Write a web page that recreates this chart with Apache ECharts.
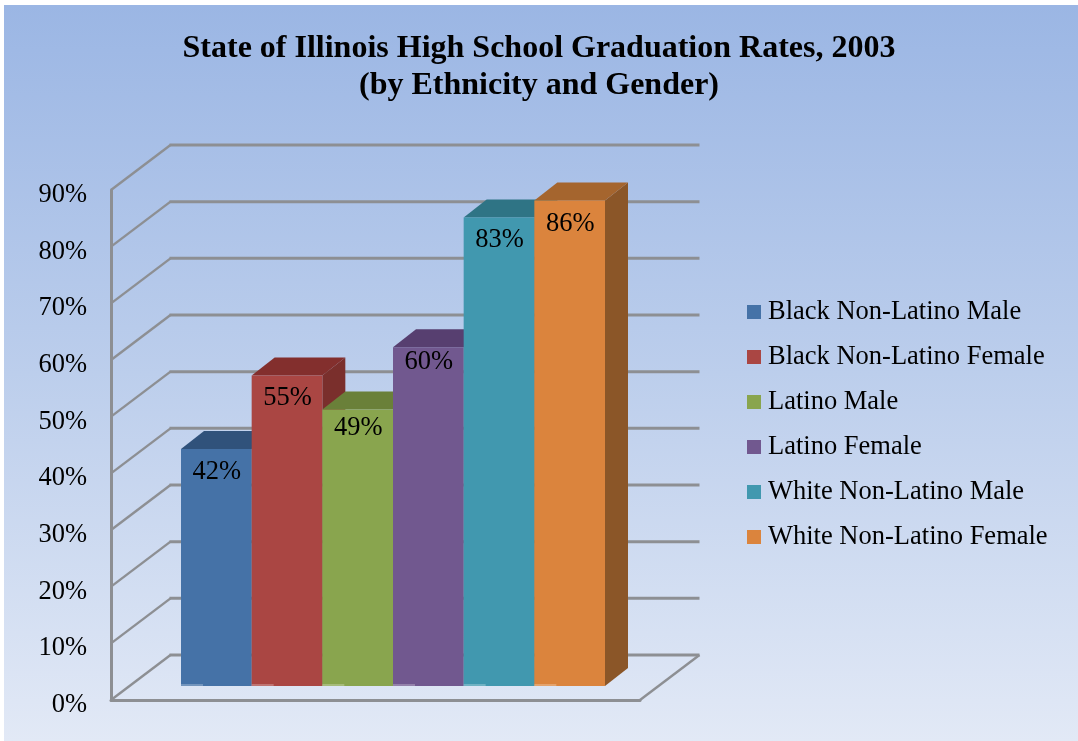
<!DOCTYPE html>
<html>
<head>
<meta charset="utf-8">
<style>html,body{margin:0;padding:0;background:#fff}#c{width:1078px;height:741px}</style>
<script src="https://cdn.jsdelivr.net/npm/echarts@6/dist/echarts.min.js"></script>
</head>
<body>
<div id="c"></div>
<script>
const titleText = 'State of Illinois High School Graduation Rates, 2003\n(by Ethnicity and Gender)';
const groups = ['Black Non-Latino Male','Black Non-Latino Female','Latino Male','Latino Female','White Non-Latino Male','White Non-Latino Female'];
const rates = [42, 55, 49, 60, 83, 86];
const frontColors = ['#4572A7','#AA4643','#89A54E','#71588F','#4198AF','#DB843D'];
const topColors = ['#30527B','#832F2D','#6A8039','#573F70','#2F7485','#A5652E'];
const sideColors = ['#2B4A70','#7A2F2C','#5F7233','#4C3763','#296777','#8B5628'];
const ticks = [0,10,20,30,40,50,60,70,80,90];
const FONT = '"Liberation Serif","Times New Roman",serif';
const GRID = '#8D8F93';
const WALL_DX = 59.5, WALL_DY = -45;
const BAR_DX = 23, BAR_DY = -18;
const LABEL_DY = [23, 22, 19, 15, 23, 23];

function renderWall(params, api) {
  const v = api.value(0);
  const a = api.coord([0, v]);
  const b = api.coord([1, v]);
  const bx = a[0] + WALL_DX, by = a[1] + WALL_DY;
  const children = [
    { type: 'line', shape: { x1: a[0], y1: a[1], x2: bx, y2: by }, style: { stroke: GRID, lineWidth: 2.4 } },
    { type: 'line', shape: { x1: bx - 1, y1: by, x2: b[0] + WALL_DX, y2: by }, style: { stroke: GRID, lineWidth: 3 } }
  ];
  if (v === 0) {
    children.push({
      type: 'line',
      shape: { x1: b[0], y1: b[1], x2: b[0] + WALL_DX, y2: b[1] + WALL_DY },
      style: { stroke: GRID, lineWidth: 2.4 }
    });
  }
  return { type: 'group', children };
}

function renderBar(params, api) {
  const i = api.value(0);
  const top = api.coord([i, api.value(1)]);
  const base = api.coord([i, 0]);
  const w = api.size([1, 0])[0];
  const l = top[0] - w / 2, r = top[0] + w / 2;
  return {
    type: 'group',
    children: [
      { type: 'polygon', shape: { points: [[r, top[1]], [r + BAR_DX, top[1] + BAR_DY], [r + BAR_DX, base[1] + BAR_DY], [r, base[1]]] }, style: { fill: sideColors[i] } },
      { type: 'polygon', shape: { points: [[l, top[1]], [l + BAR_DX, top[1] + BAR_DY], [r + BAR_DX, top[1] + BAR_DY], [r, top[1]]] }, style: { fill: topColors[i] } },
      { type: 'rect', shape: { x: l, y: top[1], width: w, height: base[1] - top[1] }, style: { fill: frontColors[i] } },
      { type: 'rect', shape: { x: l, y: base[1] - 2, width: 22, height: 2 }, style: { fill: 'rgba(255,255,255,0.25)' } },
      { type: 'text', x: top[0] + 0.5, y: top[1] + LABEL_DY[i], style: { text: rates[i] + '%', font: '26.5px ' + FONT, fill: '#000', align: 'center', verticalAlign: 'middle' } }
    ]
  };
}

const chart = echarts.init(document.getElementById('c'), null, { renderer: 'canvas' });
chart.setOption({
  animation: false,
  backgroundColor: '#ffffff',
  graphic: [{
    type: 'rect', z: -10, silent: true,
    shape: { x: 4, y: 5, width: 1074, height: 736 },
    style: { fill: new echarts.graphic.LinearGradient(0, 0, 0, 1, [
      { offset: 0, color: '#9BB6E4' }, { offset: 0.5, color: '#BCCEEC' }, { offset: 1, color: '#E2E9F6' }
    ]) }
  }],
  title: {
    text: titleText, left: 534, textAlign: 'center', top: 25,
    textStyle: { fontFamily: FONT, fontWeight: 'bold', fontSize: 32, lineHeight: 37, color: '#000' }
  },
  legend: {
    data: groups, orient: 'vertical', left: 742, top: 293,
    icon: 'rect', itemWidth: 14, itemHeight: 14, itemGap: 17, selectedMode: false,
    textStyle: { fontFamily: FONT, fontSize: 26.5, color: '#000', padding: [0,0,0,2], lineHeight: 28 }
  },
  grid: [
    { left: 111, top: 190, width: 529, height: 510 },
    { left: 181, top: 178, width: 424, height: 508 }
  ],
  xAxis: [
    { type: 'value', gridIndex: 0, min: 0, max: 1, axisLine: { show: true, onZero: false, lineStyle: { color: GRID, width: 3 } }, axisTick: { show: false }, axisLabel: { show: false }, splitLine: { show: false } },
    { type: 'category', gridIndex: 1, data: groups, axisLine: { show: false }, axisTick: { show: false }, axisLabel: { show: false } }
  ],
  yAxis: [
    { type: 'value', gridIndex: 0, min: 0, max: 90, interval: 10,
      axisLine: { show: true, lineStyle: { color: GRID, width: 3 } }, axisTick: { show: false }, splitLine: { show: false },
      axisLabel: { formatter: '{value}%', fontFamily: FONT, fontSize: 26.5, color: '#000', margin: 24, verticalAlign: 'top', lineHeight: 10 } },
    { type: 'value', gridIndex: 1, min: 0, max: 90, interval: 10, show: false, splitLine: { show: false } }
  ],
  series: [
    { type: 'custom', name: 'walls', xAxisIndex: 0, yAxisIndex: 0, z: 1, silent: true, renderItem: renderWall, data: ticks.map(t => [t]), encode: { y: 0 } }
  ].concat(groups.map((g, i) => ({
    type: 'custom', name: g, xAxisIndex: 1, yAxisIndex: 1, z: 2 + i,
    itemStyle: { color: frontColors[i] }, renderItem: renderBar,
    data: [[i, rates[i]]], encode: { x: 0, y: 1 }
  })))
});
</script>
</body>
</html>
